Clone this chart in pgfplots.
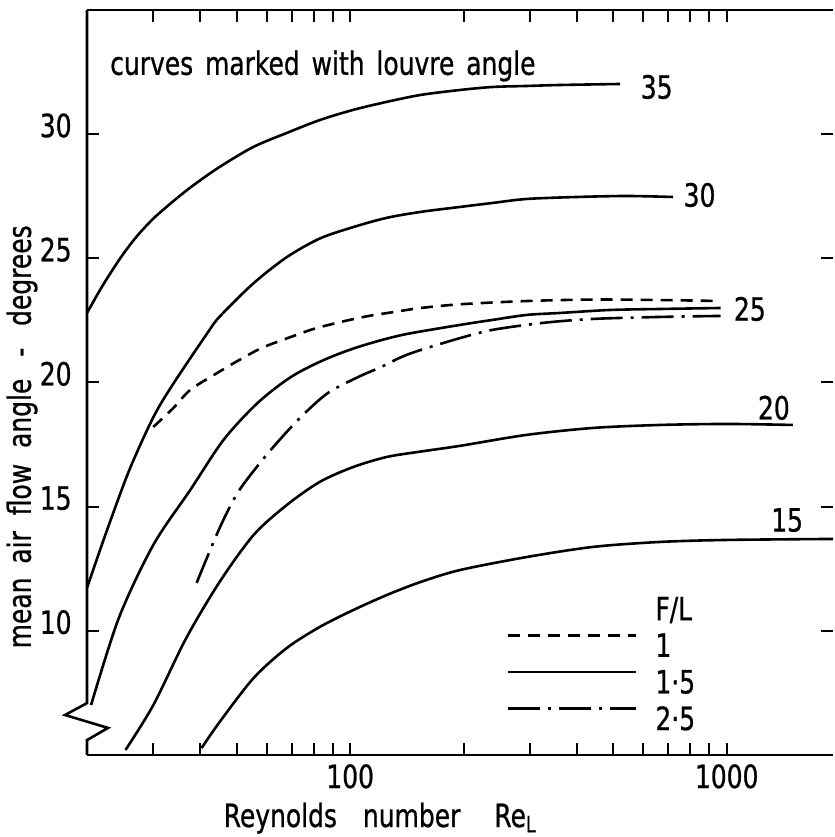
\documentclass[border=0pt]{standalone}
\usepackage{fontspec}
\setmainfont{DejaVu Sans}[FakeStretch=0.78, WordSpace=1.5, FakeBold=0.8]
\usepackage{pgfplots}
\pgfplotsset{compat=1.18}

\tikzset{
  fla/.style={black, line width=1.3pt, dash pattern=on 6pt off 4pt},
  flb/.style={black, line width=1.3pt},
  flc/.style={black, line width=1.3pt, dash pattern=on 16pt off 4pt on 1.5pt off 4pt},
}

\begin{document}
\fontsize{16}{19}\selectfont
\begin{tikzpicture}
\begin{axis}[
  xmode=log, xmin=20, xmax=1916, ymin=5, ymax=35,
  scale only axis, width=373pt, height=372.5pt,
  clip=false,
  axis line style={draw=none},
  tick align=inside,
  major tick length=6pt, minor tick length=6pt,
  every tick/.style={line width=1pt, black},
  xtick={100,1000}, xticklabels={100,1000},
  ytick={10,15,20,25,30}, yticklabels={10,15,20,25,30},
  xticklabel style={inner sep=0pt, anchor=base, yshift=-16.5pt},
  yticklabel style={inner sep=0pt, anchor=base east, xshift=-7.5pt, yshift=-1.5pt},
  xlabel={Reynolds\hspace{13pt}number\hspace{17pt}Re\textsubscript{L}},
  ylabel={mean\hspace{1pt} air\hspace{2pt} flow\hspace{2pt} angle\hspace{5pt} -\hspace{5pt} degrees},
  every axis x label/.style={at={([yshift=-36pt]rel axis cs:0.393,0)}, anchor=base, inner sep=0pt},
  every axis y label/.style={at={([xshift=-32.5pt]rel axis cs:0,0.427)}, rotate=90, anchor=center, inner sep=0pt},
  legend style={draw=none, fill=none, inner sep=0pt, at={(axis cs:260,11.37)}, anchor=north west,
    row sep=6.8pt, column sep=9pt,
    nodes={inner sep=0pt, text height=11.5pt, text depth=0pt}},
  legend cell align=left,
  legend image code/.code={\draw[#1] (0pt,5pt) -- (64pt,5pt);},
]

\addlegendimage{empty legend}\addlegendentry{F/L}
\addlegendimage{fla}\addlegendentry{1}
\addlegendimage{flb}\addlegendentry{1·5}
\addlegendimage{flc}\addlegendentry{2·5}

% louvre angle 35
\addplot[flb, smooth] coordinates {
  (20,22.8) (22,23.9) (24.5,25.0) (27,25.85) (30,26.6) (33.9,27.3) (38,27.9)
  (45,28.68) (55.4,29.49) (67.9,30.05) (83.1,30.57) (102,30.98) (125,31.30)
  (154,31.58) (196,31.78) (239,31.90) (294,31.94) (361,31.98) (521,32.02)
};
% louvre angle 30
\addplot[flb, smooth] coordinates {
  (20,11.73) (22.5,13.97) (25.9,16.47) (30,18.6) (33.9,19.95) (41.8,22.0)
  (45,22.65) (55.4,24.0) (67.9,25.05) (83.1,25.8) (102,26.26) (125,26.63)
  (154,26.87) (196,27.07) (239,27.23) (294,27.39) (400,27.47) (544,27.51)
  (721,27.47)
};
% louvre angle 25, F/L = 1.5
\addplot[flb, smooth] coordinates {
  (20.5,7.01) (24.3,10.52) (30,13.46) (37.6,15.67) (46.1,17.69) (56.8,19.18)
  (69.6,20.22) (85.2,20.91) (105,21.43) (137,21.91) (196,22.32) (239,22.52)
  (294,22.72) (361,22.80) (490,22.92) (666,22.96) (963,23.00)
};
% louvre angle 25, F/L = 1
\addplot[fla, smooth] coordinates {
  (30,18.21) (33.9,18.97) (37.6,19.70) (44.3,20.38) (50.8,20.91) (58.2,21.39)
  (68.3,21.79) (80.1,22.16) (94.5,22.44) (112,22.68) (131,22.84) (154,23.0)
  (196,23.15) (294,23.28) (442,23.34) (666,23.32) (963,23.28)
};
% louvre angle 25, F/L = 2.5
\addplot[flc, smooth] coordinates {
  (39.1,11.93) (45,14.14) (50.8,15.67) (61.5,17.28) (74,18.61) (87.3,19.58)
  (105,20.22) (121,20.63) (137,21.03) (154,21.31) (196,21.79) (239,22.12)
  (325,22.40) (442,22.56) (666,22.64) (963,22.68)
};
% louvre angle 20
\addplot[flb, smooth] coordinates {
  (25.3,5.2) (30,7.01) (36.7,9.71) (45,11.97) (55.4,13.86) (67.9,15.07)
  (83.1,16.00) (102,16.60) (125,17.00) (154,17.22) (196,17.45) (294,17.89)
  (442,18.17) (666,18.29) (1005,18.33) (1499,18.29)
};
% louvre angle 15
\addplot[flb, smooth] coordinates {
  (40.3,5.28) (45,6.33) (55.4,8.10) (67.9,9.31) (83.1,10.16) (102,10.84)
  (125,11.44) (154,11.97) (196,12.45) (294,12.97) (442,13.38) (666,13.58)
  (1005,13.66) (1916,13.70)
};

% x ticks on bottom and top, pointing inwards
\pgfplotsinvokeforeach{30,40,50,60,70,80,90,100,200,300,400,500,600,700,800,900,1000}{
  \addplot[black, line width=1pt, forget plot] coordinates {(#1,5) (#1,5.5)};
  \addplot[black, line width=1pt, forget plot] coordinates {(#1,34.5) (#1,35)};
}

% curve labels
\node[anchor=west, inner sep=0pt] at (axis cs:590,31.90) {35};
\node[anchor=west, inner sep=0pt] at (axis cs:767,27.55) {30};
\node[anchor=west, inner sep=0pt] at (axis cs:1043,22.96) {25};
\node[anchor=west, inner sep=0pt] at (axis cs:1208,18.98) {20};
\node[anchor=west, inner sep=0pt] at (axis cs:1310,14.46) {15};
\node[anchor=base west, inner sep=0pt] at (axis cs:23.0,32.39) {curves marked with louvre angle};

% frame: top, bottom, and left with break
\draw[line width=1.3pt] (rel axis cs:0,1) -- (rel axis cs:1,1);
\draw[line width=1.3pt] (rel axis cs:0,0) -- (rel axis cs:1,0);
\draw[line width=1.3pt, line join=miter] (rel axis cs:0,1) -- (axis cs:20,7.09)
  -- ([xshift=-11pt]axis cs:20,6.61) -- ([xshift=10.5pt]axis cs:20,6.09)
  -- (axis cs:20,5.6) -- (rel axis cs:0,0);

% page margins
\path ([yshift=5pt]rel axis cs:0,1) ([xshift=-43.5pt]rel axis cs:0,0.5) ([yshift=-41pt]rel axis cs:0.5,0);
\end{axis}
\end{tikzpicture}
\end{document}
